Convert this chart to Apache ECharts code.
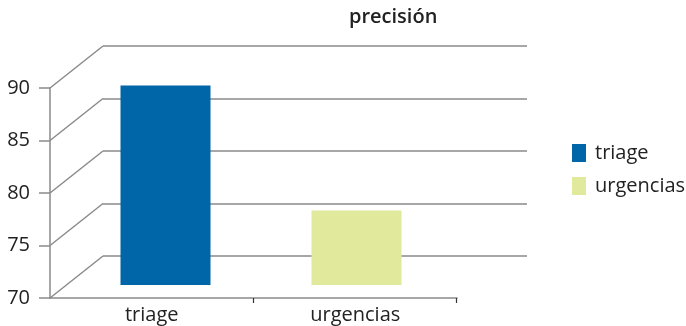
<!DOCTYPE html>
<html>
<head>
<meta charset="utf-8">
<script src="https://cdn.jsdelivr.net/npm/echarts@6/dist/echarts.min.js"></script>
<style>
  html, body { margin: 0; padding: 0; background: #fff; }
  #chart { width: 686px; height: 326px; }
</style>
</head>
<body>
<div id="chart"></div>
<script>
// Chart data
const categories = ['triage', 'urgencias'];
const triageValues = [89, '-'];
const urgenciasValues = ['-', 77.1];
const tickValues = [70, 75, 80, 85, 90];

const FONT = '"Open Sans", Lato, sans-serif';
const TEXT = '#222222';
const LINE = '#8a8a8a';
// perspective offset of the back wall relative to the front plane
const DEPTH_X = 53, DEPTH_Y = -42;

const chart = echarts.init(document.getElementById('chart'), null, { renderer: 'canvas' });

chart.setOption({
  animation: false,
  textStyle: { fontFamily: FONT },
  title: {
    text: 'precisión',
    left: 349, top: 7, padding: 0,
    textStyle: { fontFamily: FONT, fontSize: 20, fontWeight: 600, color: TEXT }
  },
  legend: {
    orient: 'vertical',
    left: 572, top: 143, padding: 0,
    icon: 'rect',
    itemWidth: 14, itemHeight: 18, itemGap: 13,
    textStyle: { fontFamily: FONT, fontSize: 20, fontWeight: 'normal', color: TEXT, padding: [0, 0, 0, 4] },
    data: ['triage', 'urgencias']
  },
  grid: [
    // front plane (axes)
    { left: 50, top: 88, width: 407, height: 210 },
    // back wall
    { left: 103, top: 46, width: 424, height: 210 },
    // bar plane
    { left: 70, top: 75, width: 382, height: 210 }
  ],
  xAxis: [
    {
      gridIndex: 0, type: 'category', data: categories,
      axisLine: { lineStyle: { color: LINE, width: 1.5 } },
      axisTick: { show: false },
      axisLabel: { fontFamily: FONT, fontSize: 20, fontWeight: 'normal', color: TEXT, margin: 7 }
    },
    { gridIndex: 1, type: 'category', data: categories, show: false },
    { gridIndex: 2, type: 'category', data: categories, show: false }
  ],
  yAxis: [
    {
      gridIndex: 0, type: 'value', min: 70, max: 90, interval: 5,
      axisLine: { show: true, lineStyle: { color: LINE, width: 1.5 } },
      axisTick: { show: true, length: 11, lineStyle: { color: LINE, width: 1.5 } },
      axisLabel: { fontFamily: FONT, fontSize: 20, fontWeight: 'normal', color: TEXT, margin: 20 },
      splitLine: { show: false }
    },
    {
      gridIndex: 1, type: 'value', min: 70, max: 90, interval: 5,
      axisLine: { show: false }, axisTick: { show: false }, axisLabel: { show: false },
      splitLine: { show: true, lineStyle: { color: LINE, width: 1.5 } }
    },
    {
      gridIndex: 2, type: 'value', min: 70, max: 90, interval: 5, startValue: 70,
      show: false, splitLine: { show: false }
    }
  ],
  series: [
    {
      // side-wall diagonals joining the front axis to the back wall
      type: 'custom',
      xAxisIndex: 0, yAxisIndex: 0,
      silent: true,
      data: tickValues.map(v => [0, v]),
      renderItem: function (params, api) {
        const y = api.coord([0, api.value(1)])[1];
        const x = params.coordSys.x;
        return {
          type: 'line',
          shape: { x1: x, y1: y, x2: x + DEPTH_X, y2: y + DEPTH_Y },
          style: { stroke: LINE, lineWidth: 1.5 }
        };
      },
      z: 1
    },
    {
      // category tick marks at the right edge of each band
      type: 'custom',
      xAxisIndex: 0, yAxisIndex: 0,
      silent: true,
      data: categories.map((c, i) => [i, tickValues[0]]),
      renderItem: function (params, api) {
        const p = api.coord([api.value(0), api.value(1)]);
        const x = Math.round(p[0] + api.size([1, 0])[0] / 2) - 0.5;
        return {
          type: 'line',
          shape: { x1: x, y1: p[1], x2: x, y2: p[1] + 5 },
          style: { stroke: '#333', lineWidth: 1.2 }
        };
      },
      z: 2
    },
    {
      name: 'triage', type: 'bar', xAxisIndex: 2, yAxisIndex: 2,
      data: triageValues, barWidth: 90, barGap: '-100%', clip: true,
      itemStyle: { color: '#0066a8' }, z: 5
    },
    {
      name: 'urgencias', type: 'bar', xAxisIndex: 2, yAxisIndex: 2,
      data: urgenciasValues, barWidth: 90, barGap: '-100%', clip: true,
      itemStyle: { color: '#e1ea9c' }, z: 5
    }
  ]
});
</script>
</body>
</html>
